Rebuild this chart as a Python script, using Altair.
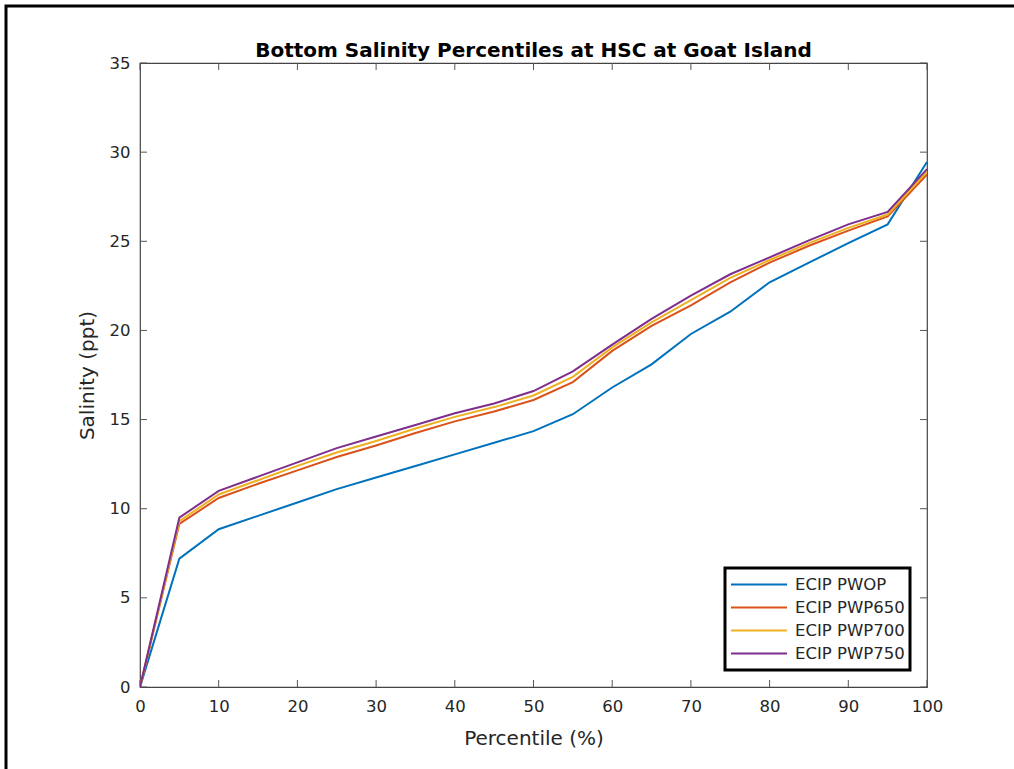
import altair as alt
import pandas as pd

pct = [0, 5, 10, 15, 20, 25, 30, 35, 40, 45, 50, 55, 60, 65, 70, 75, 80, 85, 90, 95, 100]
pwop = [0, 7.2, 8.85, 9.6, 10.35, 11.1, 11.75, 12.4, 13.05, 13.7, 14.35, 15.3, 16.8, 18.1, 19.8, 21.05, 22.7, 23.8, 24.9, 25.95, 29.45]
pwp650 = [0, 9.15, 10.6, 11.4, 12.15, 12.9, 13.55, 14.25, 14.9, 15.45, 16.1, 17.1, 18.85, 20.25, 21.4, 22.7, 23.8, 24.75, 25.6, 26.4, 28.75]
pwp700 = [0, 9.3, 10.8, 11.6, 12.4, 13.15, 13.8, 14.5, 15.15, 15.7, 16.35, 17.4, 19.05, 20.45, 21.7, 22.95, 23.95, 24.9, 25.75, 26.5, 28.9]
pwp750 = [0, 9.5, 11.0, 11.8, 12.6, 13.4, 14.05, 14.7, 15.35, 15.9, 16.6, 17.7, 19.2, 20.65, 21.95, 23.15, 24.1, 25.05, 25.95, 26.65, 29.05]

series_names = ["ECIP PWOP", "ECIP PWP650", "ECIP PWP700", "ECIP PWP750"]
series_colors = ["#0072BD", "#D95319", "#EDB120", "#7E2F8E"]
x_ticks = [0, 10, 20, 30, 40, 50, 60, 70, 80, 90, 100]
y_ticks = [0, 5, 10, 15, 20, 25, 30, 35]

rows = []
for name, vals in zip(series_names, [pwop, pwp650, pwp700, pwp750]):
    for p, v in zip(pct, vals):
        rows.append({"Percentile": p, "Salinity": v, "Series": name})
df = pd.DataFrame(rows)

W, H = 787, 624
FONT = "DejaVu Sans"

xscale = alt.Scale(domain=[0, 100], nice=False, zero=False)
yscale = alt.Scale(domain=[0, 35], nice=False, zero=False)

lines = alt.Chart(df).mark_line(strokeWidth=2, clip=True).encode(
    x=alt.X("Percentile:Q", scale=xscale,
            axis=alt.Axis(values=x_ticks, title="Percentile (%)", tickSize=0, labelPadding=11,
                          labelFlush=False, titlePadding=14, grid=False, domain=False)),
    y=alt.Y("Salinity:Q", scale=yscale,
            axis=alt.Axis(values=y_ticks, title="Salinity (ppt)", tickSize=0, labelPadding=10,
                          titlePadding=12, grid=False, domain=False)),
    color=alt.Color("Series:N", scale=alt.Scale(domain=series_names, range=series_colors),
                    legend=alt.Legend(title=None, orient="none", legendX=585, legendY=505,
                                      symbolType="stroke", symbolSize=3136, symbolStrokeWidth=2,
                                      clipHeight=23, labelFontSize=16.5, labelFont=FONT,
                                      labelColor="#262626", padding=5, rowPadding=0,
                                      labelOffset=7, fillColor="white")),
)

xt = pd.DataFrame({"t": x_ticks})
yt = pd.DataFrame({"t": y_ticks})
tick_color = "#555555"
xb = alt.Chart(xt).mark_rule(color=tick_color, strokeWidth=1).encode(
    x=alt.X("t:Q", scale=xscale), y=alt.value(H), y2=alt.value(H - 7))
xtop = alt.Chart(xt).mark_rule(color=tick_color, strokeWidth=1).encode(
    x=alt.X("t:Q", scale=xscale), y=alt.value(0), y2=alt.value(7))
yl = alt.Chart(yt).mark_rule(color=tick_color, strokeWidth=1).encode(
    y=alt.Y("t:Q", scale=yscale), x=alt.value(0), x2=alt.value(7))
yr = alt.Chart(yt).mark_rule(color=tick_color, strokeWidth=1).encode(
    y=alt.Y("t:Q", scale=yscale), x=alt.value(W), x2=alt.value(W - 7))

frame = alt.Chart(pd.DataFrame({"a": [0]})).mark_rect(
    fill=None, stroke="black", strokeWidth=3, clip=False).encode(
    x=alt.value(-134), x2=alt.value(1014 - 140 + 20),
    y=alt.value(-57), y2=alt.value(769 - 63 + 20))

chart = alt.layer(frame, xb, xtop, yl, yr, lines).properties(
    width=W, height=H,
    title=alt.Title("Bottom Salinity Percentiles at HSC at Goat Island", fontSize=20,
                    font=FONT, fontWeight="bold", color="black", offset=-56),
    padding={"left": 140, "top": 63, "right": 87, "bottom": 82},
    autosize=alt.AutoSizeParams(type="none"),
).configure_view(
    stroke="#444444", strokeWidth=1.2
).configure_axis(
    labelFont=FONT, labelFontSize=16.5, labelColor="#262626",
    titleFont=FONT, titleFontSize=20, titleColor="#262626", titleFontWeight="normal"
).configure_legend(
    strokeColor="black", strokeWidth=3
)

chart.save("out.html", embed_options={"renderer": "svg", "actions": False})
